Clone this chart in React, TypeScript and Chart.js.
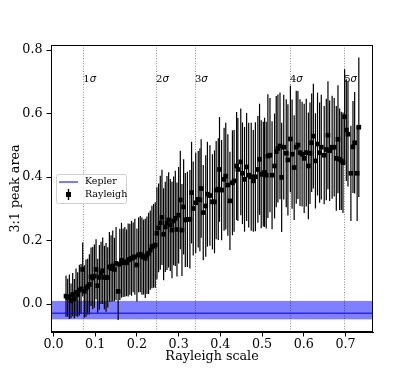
import React, { useEffect, useRef } from "react";
import { Chart, registerables } from "chart.js";

Chart.register(...registerables);

// Rayleigh-scale points (x), 3:1 peak area (y) and symmetric error half-widths
const rayleighX = [
  0.030, 0.034, 0.038, 0.042, 0.046, 0.050, 0.054, 0.058, 0.062, 0.066,
  0.070, 0.074, 0.078, 0.082, 0.086, 0.090, 0.094, 0.098, 0.102, 0.106,
  0.110, 0.114, 0.118, 0.122, 0.126, 0.130, 0.134, 0.138, 0.142, 0.146,
  0.150, 0.155, 0.159, 0.163, 0.167,
  0.171, 0.175, 0.179, 0.183, 0.187, 0.191, 0.195, 0.200, 0.204, 0.208,
  0.212, 0.216, 0.220, 0.224, 0.228, 0.232, 0.236, 0.240, 0.244, 0.248,
  0.252, 0.256, 0.260, 0.264, 0.268, 0.272, 0.276, 0.280, 0.284, 0.288,
  0.292, 0.296, 0.300, 0.304, 0.308, 0.312, 0.316,
  0.321, 0.327, 0.331, 0.335, 0.341, 0.347, 0.351, 0.354, 0.359, 0.365,
  0.369, 0.375, 0.381, 0.386, 0.390, 0.395, 0.398, 0.403, 0.409, 0.413,
  0.418, 0.423, 0.429, 0.433, 0.439, 0.442, 0.449, 0.453, 0.458, 0.463,
  0.468, 0.474, 0.479, 0.484, 0.490, 0.494, 0.498, 0.503, 0.506, 0.510,
  0.514, 0.519, 0.524, 0.530, 0.534, 0.538, 0.543, 0.547, 0.552, 0.558,
  0.562, 0.568, 0.572, 0.577, 0.582, 0.586, 0.591, 0.596, 0.601, 0.606,
  0.611,
  0.615, 0.619, 0.623, 0.628, 0.633, 0.638, 0.642, 0.649, 0.654, 0.658,
  0.662, 0.668, 0.673, 0.678, 0.682, 0.686, 0.690, 0.694, 0.698, 0.702,
  0.706, 0.713, 0.718, 0.722, 0.728, 0.732,
];

const rayleighY = [
  0.025, 0.020, 0.023, 0.010, 0.030, 0.017, 0.037, 0.030, 0.044, 0.048,
  0.109, 0.040, 0.050, 0.055, 0.062, 0.086, 0.082, 0.088, 0.109, 0.058,
  0.084, 0.098, 0.105, 0.084, 0.084, 0.084, 0.117, 0.112, 0.120, 0.109,
  0.128, 0.040, 0.125, 0.138, 0.130,
  0.133, 0.130, 0.139, 0.141, 0.144, 0.147, 0.149, 0.123, 0.155, 0.157,
  0.151, 0.148, 0.144, 0.154, 0.160, 0.170, 0.180, 0.183, 0.186, 0.223,
  0.240, 0.256, 0.273, 0.220, 0.243, 0.255, 0.265, 0.249, 0.233, 0.262,
  0.270, 0.235, 0.280, 0.328, 0.233, 0.306, 0.265,
  0.267, 0.267, 0.351, 0.301, 0.319, 0.330, 0.328, 0.364, 0.288, 0.309,
  0.346, 0.342, 0.322, 0.322, 0.359, 0.362, 0.424, 0.359, 0.393, 0.403,
  0.375, 0.325, 0.382, 0.388, 0.435, 0.424, 0.448, 0.412, 0.393, 0.432,
  0.406, 0.401, 0.388, 0.401, 0.424, 0.456, 0.409, 0.409, 0.415, 0.406,
  0.466, 0.469, 0.406, 0.435, 0.480, 0.490, 0.498, 0.399, 0.494, 0.475,
  0.454, 0.520, 0.472, 0.430, 0.494, 0.501, 0.477, 0.472, 0.459, 0.477,
  0.435,
  0.475, 0.508, 0.529, 0.451, 0.504, 0.477, 0.494, 0.469, 0.487, 0.532,
  0.483, 0.494, 0.494, 0.459, 0.519, 0.456, 0.451, 0.445, 0.590, 0.548,
  0.535, 0.412, 0.495, 0.508, 0.412, 0.557,
];

const rayleighErr = [
  0.065, 0.060, 0.070, 0.055, 0.068, 0.062, 0.075, 0.070, 0.080, 0.078,
  0.085, 0.082, 0.090, 0.088, 0.095, 0.092, 0.098, 0.100, 0.095, 0.085,
  0.102, 0.098, 0.105, 0.100, 0.108, 0.095, 0.110, 0.105, 0.112, 0.100,
  0.115, 0.090, 0.112, 0.118, 0.108,
  0.110, 0.105, 0.115, 0.112, 0.118, 0.110, 0.120, 0.115, 0.118, 0.120,
  0.122, 0.118, 0.125, 0.122, 0.128, 0.125, 0.130, 0.132, 0.135, 0.145,
  0.140, 0.148, 0.150, 0.145, 0.142, 0.148, 0.150, 0.145, 0.152, 0.140,
  0.150, 0.148, 0.152, 0.155, 0.145, 0.150, 0.148,
  0.150, 0.155, 0.160, 0.148, 0.158, 0.152, 0.162, 0.155, 0.150, 0.160,
  0.165, 0.158, 0.150, 0.162, 0.155, 0.160, 0.165, 0.158, 0.162, 0.168,
  0.160, 0.155, 0.165, 0.160, 0.170, 0.162, 0.168, 0.160, 0.165, 0.170,
  0.165, 0.170, 0.160, 0.172, 0.168, 0.175, 0.170, 0.165, 0.172, 0.168,
  0.195, 0.180, 0.170, 0.165, 0.175, 0.170, 0.168, 0.172, 0.165, 0.170,
  0.175, 0.168, 0.172, 0.165, 0.178, 0.170, 0.168, 0.165, 0.172, 0.170,
  0.168,
  0.160, 0.155, 0.165, 0.150, 0.162, 0.158, 0.165, 0.155, 0.160, 0.170,
  0.158, 0.162, 0.155, 0.165, 0.170, 0.160, 0.155, 0.158, 0.150, 0.160,
  0.165, 0.150, 0.145, 0.160, 0.150, 0.220,
];

const keplerValue = -0.029;
const keplerLow = -0.048;
const keplerHigh = 0.010;

const sigmaPositions = [0.0715, 0.246, 0.339, 0.567, 0.697];
const sigmaNumbers = ["1", "2", "3", "4", "5"];
const sigmaLabelY = 0.7;

const xTicks = [0.0, 0.1, 0.2, 0.3, 0.4, 0.5, 0.6, 0.7];
const yTicks = [0.0, 0.2, 0.4, 0.6, 0.8];

const SERIF = "'DejaVu Serif', serif";
const FONT_SIZE = 12.7;

const overlayPlugin = {
  id: "overlay",
  beforeDatasetsDraw(chart: any) {
    const { ctx, chartArea, scales } = chart;
    const xs = scales.x;
    const ys = scales.y;
    ctx.save();
    ctx.beginPath();
    ctx.rect(chartArea.left, chartArea.top, chartArea.right - chartArea.left, chartArea.bottom - chartArea.top);
    ctx.clip();
    // Kepler band
    const yb1 = ys.getPixelForValue(keplerHigh);
    const yb2 = ys.getPixelForValue(keplerLow);
    ctx.fillStyle = "rgba(0,0,255,0.5)";
    ctx.fillRect(chartArea.left, yb1, chartArea.right - chartArea.left, yb2 - yb1);
    // sigma lines
    ctx.strokeStyle = "rgba(0,0,0,0.45)";
    ctx.lineWidth = 1;
    ctx.setLineDash([1, 1.6]);
    sigmaPositions.forEach((v) => {
      const px = Math.round(xs.getPixelForValue(v)) + 0.5;
      ctx.beginPath();
      ctx.moveTo(px, chartArea.top);
      ctx.lineTo(px, chartArea.bottom);
      ctx.stroke();
    });
    ctx.setLineDash([]);
    // error bars
    ctx.strokeStyle = "#000";
    ctx.lineWidth = 1.2;
    for (let i = 0; i < rayleighX.length; i++) {
      const px = xs.getPixelForValue(rayleighX[i]);
      const p1 = ys.getPixelForValue(rayleighY[i] + rayleighErr[i]);
      const p2 = ys.getPixelForValue(rayleighY[i] - rayleighErr[i]);
      ctx.beginPath();
      ctx.moveTo(px, p1);
      ctx.lineTo(px, p2);
      ctx.stroke();
    }
    ctx.restore();
  },
  afterDatasetsDraw(chart: any) {
    const { ctx, chartArea, scales } = chart;
    const xs = scales.x;
    const ys = scales.y;
    ctx.save();
    // sigma labels
    ctx.fillStyle = "#000";
    ctx.textBaseline = "alphabetic";
    ctx.textAlign = "left";
    const ly = ys.getPixelForValue(sigmaLabelY);
    sigmaPositions.forEach((v, i) => {
      const px = xs.getPixelForValue(v);
      ctx.font = "10px " + SERIF;
      ctx.fillText(sigmaNumbers[i], px, ly);
      const w = ctx.measureText(sigmaNumbers[i]).width;
      ctx.font = "italic 10px 'DejaVu Sans', sans-serif";
      ctx.fillText("σ", px + w, ly);
    });
    // frame
    ctx.strokeStyle = "#000";
    ctx.lineWidth = 1;
    ctx.strokeRect(
      Math.round(chartArea.left) + 0.5,
      Math.round(chartArea.top) + 0.5,
      Math.round(chartArea.right - chartArea.left) - 1,
      Math.round(chartArea.bottom - chartArea.top) - 1
    );
    // legend
    const bx = 56, by = 174, bw = 70, bh = 29;
    ctx.fillStyle = "rgba(255,255,255,0.8)";
    ctx.strokeStyle = "#d0d0d0";
    ctx.lineWidth = 1;
    ctx.beginPath();
    ctx.roundRect(bx + 0.5, by + 0.5, bw, bh, 2);
    ctx.fill();
    ctx.stroke();
    ctx.strokeStyle = "rgba(0,0,255,0.8)";
    ctx.lineWidth = 1.3;
    ctx.beginPath();
    ctx.moveTo(59, 182);
    ctx.lineTo(78, 182);
    ctx.stroke();
    ctx.strokeStyle = "#000";
    ctx.lineWidth = 1.4;
    ctx.beginPath();
    ctx.moveTo(68.5, 189);
    ctx.lineTo(68.5, 200);
    ctx.stroke();
    ctx.fillStyle = "#000";
    ctx.fillRect(66, 192, 5, 5);
    ctx.font = "9.5px " + SERIF;
    ctx.textBaseline = "middle";
    ctx.fillText("Kepler", 85, 182);
    ctx.fillText("Rayleigh", 85, 194.5);
    ctx.restore();
  },
};

export default function App() {
  const ref = useRef<HTMLCanvasElement | null>(null);

  useEffect(() => {
    if (!ref.current) return;
    const points = rayleighX.map((x, i) => ({ x, y: rayleighY[i] }));
    const chart = new Chart(ref.current, {
      type: "scatter",
      data: {
        datasets: [
          {
            type: "line",
            label: "Kepler",
            data: [
              { x: -0.1, y: keplerValue },
              { x: 1.0, y: keplerValue },
            ],
            borderColor: "rgba(0,0,255,0.7)",
            borderWidth: 1.5,
            pointRadius: 0,
            fill: false,
          } as any,
          {
            label: "Rayleigh",
            data: points,
            pointStyle: "rect",
            pointRadius: 3.3,
            backgroundColor: "#000",
            borderColor: "#000",
            borderWidth: 0,
          },
        ],
      },
      options: {
        animation: false,
        responsive: false,
        devicePixelRatio: 1,
        events: [],
        layout: { padding: { top: 45, right: 42, left: 0, bottom: 0 } },
        plugins: { legend: { display: false }, tooltip: { enabled: false } },
        scales: {
          x: {
            type: "linear",
            min: -0.006,
            max: 0.766,
            afterFit: (s: any) => {
              s.height = 42;
            },
            afterBuildTicks: (s: any) => {
              s.ticks = xTicks.map((v) => ({ value: v }));
            },
            ticks: {
              color: "#000",
              padding: 1,
              maxRotation: 0,
              font: { family: SERIF, size: FONT_SIZE },
              callback: (v: any) => Number(v).toFixed(1),
            },
            grid: { drawOnChartArea: false, drawTicks: true, tickLength: 4.5, color: "#000" },
            border: { display: true, color: "#000" },
            title: {
              display: true,
              text: "Rayleigh scale",
              color: "#000",
              font: { family: SERIF, size: FONT_SIZE },
              padding: { top: 0, bottom: 10 },
            },
          },
          y: {
            type: "linear",
            min: -0.088,
            max: 0.816,
            afterFit: (s: any) => {
              s.width = 51;
            },
            afterBuildTicks: (s: any) => {
              s.ticks = yTicks.map((v) => ({ value: v }));
            },
            ticks: {
              color: "#000",
              padding: 4,
              font: { family: SERIF, size: FONT_SIZE },
              callback: (v: any) => Number(v).toFixed(1),
            },
            grid: { drawOnChartArea: false, drawTicks: true, tickLength: 4.5, color: "#000" },
            border: { display: true, color: "#000" },
            title: {
              display: true,
              text: "3:1 peak area",
              color: "#000",
              font: { family: SERIF, size: FONT_SIZE },
              padding: { top: 8, bottom: 0 },
            },
          },
        },
      },
      plugins: [overlayPlugin],
    });
    return () => chart.destroy();
  }, []);

  return (
    <div style={{ position: "fixed", left: 0, top: 0, width: 415, height: 374, background: "#fff" }}>
      <canvas ref={ref} width={415} height={374} style={{ display: "block" }} />
    </div>
  );
}
